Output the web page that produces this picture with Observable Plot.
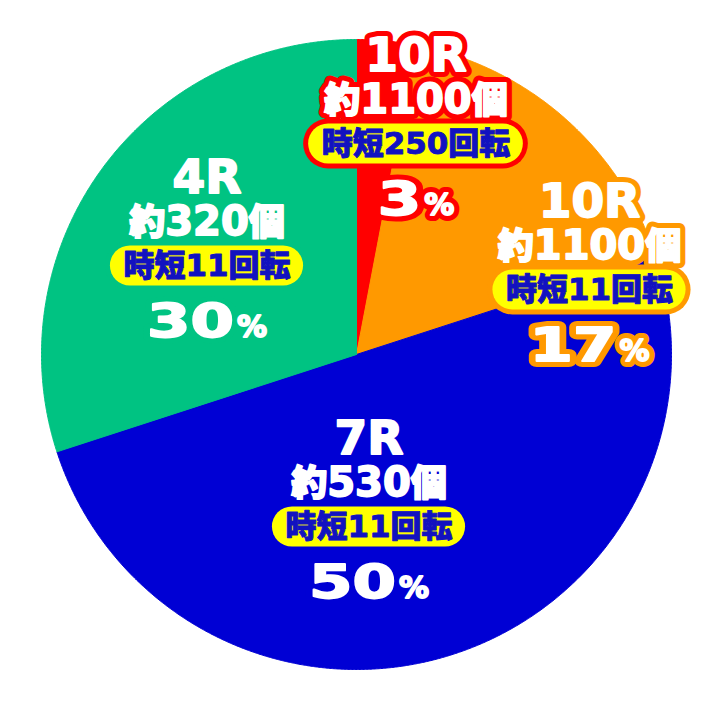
<!DOCTYPE html>
<html><head><meta charset="utf-8">
<script src="https://cdn.jsdelivr.net/npm/d3@7"></script>
<script src="https://cdn.jsdelivr.net/npm/@observablehq/plot@0.6"></script>
<style>html,body{margin:0;padding:0;background:#fff}#chart{width:712px;height:710px}</style>
</head><body><div id="chart"></div>
<script>
// ---- data ----
const rounds  = ["10R", "10R", "7R", "4R"];
const payouts = ["約1100個", "約1100個", "約530個", "約320個"];
const jitan   = ["時短250回転", "時短11回転", "時短11回転", "時短11回転"];
const shares  = [3, 17, 50, 30];
const colors  = ["#ff0000", "#ff9900", "#0000d4", "#00c382"];

// ---- layout ----
const R = 315;
const FONT = "'DejaVu Sans', 'Noto Sans CJK JP', sans-serif";
const anchorOffset = [[59.5, 210.5], [233, 64.5], [12.5, -172.5], [-149.5, 88.5]];
const PILL_FS = 31, PILL_H = 40, BORDER = 5;
const SHARE_FS = 47, SHARE_SX = 1.33, PCT_FS = 30;
const PAY_FS = 40, PAY_KANJI_FS = 36;

const arcs = d3.pie().sort(null).value(d => d)(shares);
const slicePts = arcs.map((a, i) => {
  const n = Math.max(2, Math.ceil((a.endAngle - a.startAngle) / (Math.PI / 720)));
  const pts = [{x: 0, y: 0}];
  for (let k = 0; k <= n; k++) {
    const t = a.startAngle + (a.endAngle - a.startAngle) * k / n;
    pts.push({x: R * Math.sin(t), y: R * Math.cos(t)});
  }
  pts.push({x: 0, y: 0});
  return pts;
});

const labels = shares.map((v, i) => {
  const [ax, ay] = anchorOffset[i];
  const s = jitan[i];
  const nk = [...s].filter(c => c.charCodeAt(0) > 127).length;
  const nd = [...s].length - nk;
  const pw = nk * PILL_FS + nd * 0.696 * PILL_FS + 26;
  const digits = String(v).length;
  const nw = digits * 0.696 * SHARE_FS * SHARE_SX;
  const tw = nw + 3 + PCT_FS;
  return {
    i, color: colors[i], round: rounds[i], payout: payouts[i], jitan: s,
    num: String(v), pct: "%",
    x: ax, yRound: ay + 88, yPay: ay + 44, yPill: ay, yShare: ay - 56,
    px1: ax - pw / 2, px2: ax + pw / 2, py1: ay - PILL_H / 2, py2: ay + PILL_H / 2,
    numX: ax - tw / 2 + nw, pctX: ax - tw / 2 + nw + 3
  };
});

function labelTexts(strokeOpts) {
  const base = {fill: "white", fontFamily: FONT, fontWeight: 900, lineAnchor: "middle",
    strokeLinejoin: "round", paintOrder: "stroke", ...strokeOpts};
  return [
    Plot.text(labels, {...base, x: "x", y: "yRound", text: "round", fontSize: 47}),
    Plot.text(labels, {...base, x: "x", y: "yPay", text: "payout", fontSize: PAY_FS}),
    Plot.text(labels, {...base, x: "numX", y: "yShare", text: "num", fontSize: SHARE_FS, textAnchor: "end"}),
    Plot.text(labels, {...base, x: "pctX", y: d => d.yShare - 0.335 * (SHARE_FS - PCT_FS), text: "pct", fontSize: PCT_FS, textAnchor: "start"})
  ];
}

const chart = Plot.plot({
  width: 712, height: 710, margin: 0,
  x: {domain: [-356, 356], range: [0, 712], axis: null},
  y: {domain: [-356, 354], range: [710, 0], axis: null},
  color: {type: "identity"},
  style: {background: "white"},
  marks: [
    ...slicePts.map((pts, i) => Plot.line(pts, {x: "x", y: "y", fill: colors[i], stroke: colors[i], strokeWidth: 1, curve: "linear"})),
    Plot.rect(labels, {x1: d => d.px1 - BORDER, x2: d => d.px2 + BORDER, y1: d => d.py1 - BORDER, y2: d => d.py2 + BORDER, fill: "color", rx: PILL_H / 2 + BORDER}),
    ...labelTexts({stroke: "color", strokeWidth: 12}),
    ...labelTexts({stroke: "white", strokeWidth: 1.8}),
    Plot.rect(labels, {x1: "px1", x2: "px2", y1: "py1", y2: "py2", fill: "#ffff00", rx: PILL_H / 2}),
    Plot.text(labels, {x: "x", y: "yPill", text: "jitan", fill: "#1212c0", stroke: "#1212c0", strokeWidth: 0.9, fontSize: PILL_FS, fontFamily: FONT, fontWeight: 900, lineAnchor: "middle"})
  ]
});

// post-styling: widen share numbers, set kanji size in payout lines
chart.querySelectorAll("text").forEach(t => {
  const s = t.textContent;
  if (/^\d+$/.test(s)) {
    const tr = t.getAttribute("transform");
    if (tr) t.setAttribute("transform", tr + ` scale(${SHARE_SX},1)`);
    else {
      const x = +t.getAttribute("x") || 0, y = +t.getAttribute("y") || 0;
      t.setAttribute("transform", `translate(${x},${y}) scale(${SHARE_SX},1) translate(${-x},${-y})`);
    }
  } else if (s.startsWith("約")) {
    const old = t.querySelector("tspan");
    const keep = {};
    if (old) ["x", "y", "dy"].forEach(a => { if (old.hasAttribute(a)) keep[a] = old.getAttribute(a); });
    while (t.firstChild) t.removeChild(t.firstChild);
    const runs = s.match(/[^\x00-\x7F]+|[\x00-\x7F]+/g);
    runs.forEach((r, k) => {
      const sp = document.createElementNS("http://www.w3.org/2000/svg", "tspan");
      if (k === 0) for (const a in keep) sp.setAttribute(a, keep[a]);
      if (r.charCodeAt(0) > 127) sp.setAttribute("font-size", String(PAY_KANJI_FS));
      sp.textContent = r;
      t.appendChild(sp);
    });
  }
});

document.getElementById("chart").appendChild(chart);
</script>
</body></html>
